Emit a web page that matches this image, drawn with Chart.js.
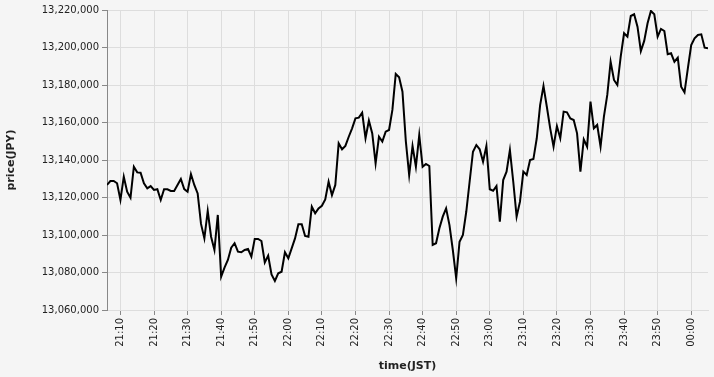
<!DOCTYPE html>
<html>
<head>
<meta charset="utf-8">
<script src="https://cdn.jsdelivr.net/npm/chart.js@4.4.0/dist/chart.umd.min.js"></script>
<style>
  html, body { margin: 0; padding: 0; background: #f5f5f5; }
  canvas { display: block; }
</style>
</head>
<body>
<canvas id="c" width="714" height="377"></canvas>
<script>
// first sample time (minutes after midnight), one sample per minute
const startMinute = 21 * 60 + 6;

// price(JPY) per minute, 21:06 .. 00:05
const prices = [
  13126700, 13128800, 13128800, 13127600, 13118700, 13131100, 13123100, 13119900, 13136400, 13133400,
  13133200, 13127600, 13124900, 13126100, 13124000, 13124400, 13118700, 13124400, 13124400, 13123500,
  13123500, 13126700, 13129900, 13124500, 13123100, 13132500, 13126700, 13122200, 13105900, 13098200,
  13112800, 13099100, 13092000, 13110700, 13077800, 13082600, 13086700, 13093200, 13095600, 13091100,
  13090800, 13092000, 13092500, 13088400, 13097900, 13097900, 13096800, 13085400, 13089000, 13079000,
  13075500, 13079600, 13080400, 13090800, 13087600, 13092900, 13098200, 13105700, 13105700, 13099500,
  13099100, 13115100, 13111600, 13114200, 13115600, 13119000, 13128400, 13121300, 13126700, 13148900,
  13145700, 13147500, 13152400, 13156900, 13162200, 13162600, 13165200, 13151600, 13161000, 13154200,
  13138200, 13152400, 13149800, 13155100, 13156000, 13166700, 13185900, 13184100, 13176400, 13150100,
  13132000, 13147500, 13136400, 13153300, 13136400, 13137900, 13136800, 13094700, 13095600, 13103600,
  13109800, 13114200, 13105300, 13092000, 13076900, 13096400, 13100000, 13112400, 13128400, 13144400,
  13148000, 13145700, 13139100, 13147500, 13124400, 13123600, 13126100, 13107100, 13129300, 13133800,
  13145300, 13128400, 13109800, 13117800, 13133800, 13132000, 13140000, 13140500, 13151600, 13169300,
  13179500, 13168400, 13156900, 13147100, 13158100, 13151600, 13165800, 13165400, 13162200, 13161300,
  13154200, 13133800, 13151000, 13147100, 13171100, 13156900, 13158700, 13147100, 13163100, 13174700,
  13192400, 13182700, 13180000, 13195100, 13207600, 13205800, 13216800, 13217700, 13211100, 13198100,
  13203500, 13212900, 13219500, 13217700, 13205800, 13209900, 13208800, 13196400, 13196900, 13192400,
  13194600, 13179100, 13176100, 13188900, 13201300, 13204900, 13206700, 13207000, 13199900, 13199600
];

// axis settings (values)
const yMin = 13060000, yMax = 13220000, yStep = 20000;
const xTickStep = 10; // minutes
const xTitle = 'time(JST)';
const yTitle = 'price(JPY)';

const points = prices.map((p, i) => ({ x: startMinute + i, y: p }));

function fmtTime(m) {
  const h = Math.floor(m / 60) % 24;
  const mm = m % 60;
  return String(h).padStart(2, '0') + ':' + String(mm).padStart(2, '0');
}

const FONT = "'DejaVu Sans', sans-serif";

new Chart(document.getElementById('c'), {
  type: 'line',
  data: {
    datasets: [{
      data: points,
      borderColor: '#000',
      borderWidth: 2,
      pointRadius: 0,
      tension: 0,
      fill: false,
      borderJoinStyle: 'miter'
    }]
  },
  options: {
    responsive: false,
    animation: false,
    devicePixelRatio: 1,
    layout: { padding: { left: 0, right: 6, top: 10, bottom: 0 } },
    plugins: { legend: { display: false }, tooltip: { enabled: false } },
    scales: {
      x: {
        type: 'linear',
        min: startMinute,
        max: startMinute + prices.length - 1,
        afterFit: (s) => { s.height = 67; },
        grid: { color: '#dddddd', tickColor: '#888888', tickLength: 5, lineWidth: 1 },
        border: { color: '#dddddd', width: 1 },
        ticks: {
          stepSize: xTickStep,
          includeBounds: false,
          autoSkip: false,
          minRotation: 90,
          maxRotation: 90,
          padding: 3,
          color: '#222',
          font: { family: FONT, size: 10 },
          callback: (v) => fmtTime(v)
        },
        title: {
          display: true,
          text: xTitle,
          color: '#222',
          font: { family: FONT, size: 11, weight: 'bold' },
          padding: { top: 4, bottom: 4 }
        }
      },
      y: {
        type: 'linear',
        min: yMin,
        max: yMax,
        afterFit: (s) => { s.width = 107; },
        grid: { color: '#dddddd', tickColor: '#888888', tickLength: 5, lineWidth: 1 },
        border: { color: '#888888', width: 1 },
        ticks: {
          stepSize: yStep,
          padding: 3,
          color: '#222',
          font: { family: FONT, size: 10 },
          callback: (v) => Number(v).toLocaleString('en-US')
        },
        title: {
          display: true,
          text: yTitle,
          color: '#222',
          font: { family: FONT, size: 11, weight: 'bold' },
          padding: { top: 5, bottom: 4 }
        }
      }
    }
  }
});
</script>
</body>
</html>
